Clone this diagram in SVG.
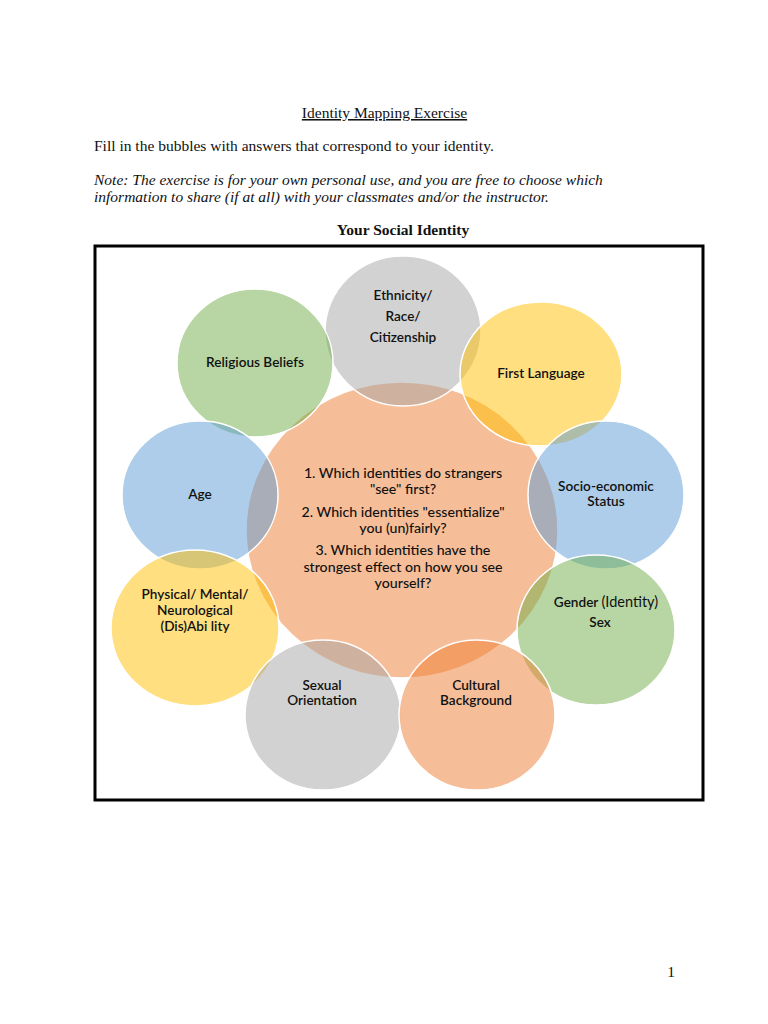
<svg xmlns="http://www.w3.org/2000/svg" width="768" height="1024" viewBox="0 0 768 1024">
<style>
.serif{font-family:"Liberation Serif","Times New Roman",serif;font-size:15.5px;fill:#111}
.lbl{font-family:Lato,"Liberation Sans",sans-serif;font-size:13.6px;font-weight:600;fill:#111;text-anchor:middle}
.q{font-family:Lato,"Liberation Sans",sans-serif;font-size:14.2px;font-weight:500;fill:#111;text-anchor:middle}
.c{stroke:#fff;stroke-width:1.5;fill-opacity:0.5}
.gray{fill:#a5a5a5}.green{fill:#70ad47}.yellow{fill:#ffc000}.blue{fill:#5b9bd5}.orange{fill:#ed7d31}
</style>
<rect width="768" height="1024" fill="#fff"/>
<text class="serif" x="384.5" y="118" text-anchor="middle" text-decoration="underline">Identity Mapping Exercise</text>
<text class="serif" x="94" y="151">Fill in the bubbles with answers that correspond to your identity.</text>
<text class="serif" x="94" y="185" font-style="italic">Note: The exercise is for your own personal use, and you are free to choose which</text>
<text class="serif" x="94" y="202" font-style="italic">information to share (if at all) with your classmates and/or the instructor.</text>
<text class="serif" x="403" y="235" text-anchor="middle" font-weight="bold">Your Social Identity</text>
<rect x="95" y="246" width="608" height="554" fill="#fff" stroke="#000" stroke-width="3"/>
<g id="center"><ellipse class="c orange" cx="402" cy="530" rx="156" ry="148"/></g>
<g id="ethnicity"><ellipse class="c gray" cx="403" cy="331" rx="78" ry="75"/></g>
<g id="religious"><ellipse class="c green" cx="255" cy="363" rx="78" ry="74"/></g>
<g id="language"><ellipse class="c yellow" cx="541" cy="374" rx="81" ry="72"/></g>
<g id="age"><ellipse class="c blue" cx="200" cy="495" rx="78" ry="74"/></g>
<g id="socio"><ellipse class="c blue" cx="606" cy="495" rx="78" ry="74"/></g>
<g id="physical"><ellipse class="c yellow" cx="195" cy="628" rx="84" ry="78"/></g>
<g id="gender"><ellipse class="c green" cx="596" cy="630" rx="79" ry="75"/></g>
<g id="sexual"><ellipse class="c gray" cx="323" cy="715" rx="78" ry="75"/></g>
<g id="cultural"><ellipse class="c orange" cx="477" cy="715" rx="78" ry="75"/></g>
<g id="labels">
<text class="lbl" x="403" y="300">Ethnicity/</text>
<text class="lbl" x="403" y="321">Race/</text>
<text class="lbl" x="403" y="342">Citizenship</text>
<text class="lbl" x="255" y="367">Religious Beliefs</text>
<text class="lbl" x="541" y="378">First Language</text>
<text class="lbl" x="200" y="499">Age</text>
<text class="lbl" x="606" y="491">Socio-economic</text>
<text class="lbl" x="606" y="506">Status</text>
<text class="lbl" x="195" y="599">Physical/ Mental/</text>
<text class="lbl" x="195" y="615">Neurological</text>
<text class="lbl" x="195" y="631">(Dis)Abi lity</text>
<text class="lbl" x="606" y="607">Gender <tspan font-weight="400" font-size="14.5">(Identity)</tspan></text>
<text class="lbl" x="600" y="627">Sex</text>
<text class="lbl" x="322" y="690">Sexual</text>
<text class="lbl" x="322" y="705">Orientation</text>
<text class="lbl" x="476" y="690">Cultural</text>
<text class="lbl" x="476" y="705">Background</text>
<text class="q" x="403" y="478">1. Which identities do strangers</text>
<text class="q" x="403" y="494">"see" first?</text>
<text class="q" x="403" y="517">2. Which identities "essentialize"</text>
<text class="q" x="403" y="533">you (un)fairly?</text>
<text class="q" x="403" y="555">3. Which identities have the</text>
<text class="q" x="403" y="572">strongest effect on how you see</text>
<text class="q" x="403" y="588">yourself?</text>
</g>
<text class="serif" x="671" y="977" font-size="12" text-anchor="middle">1</text>
</svg>
